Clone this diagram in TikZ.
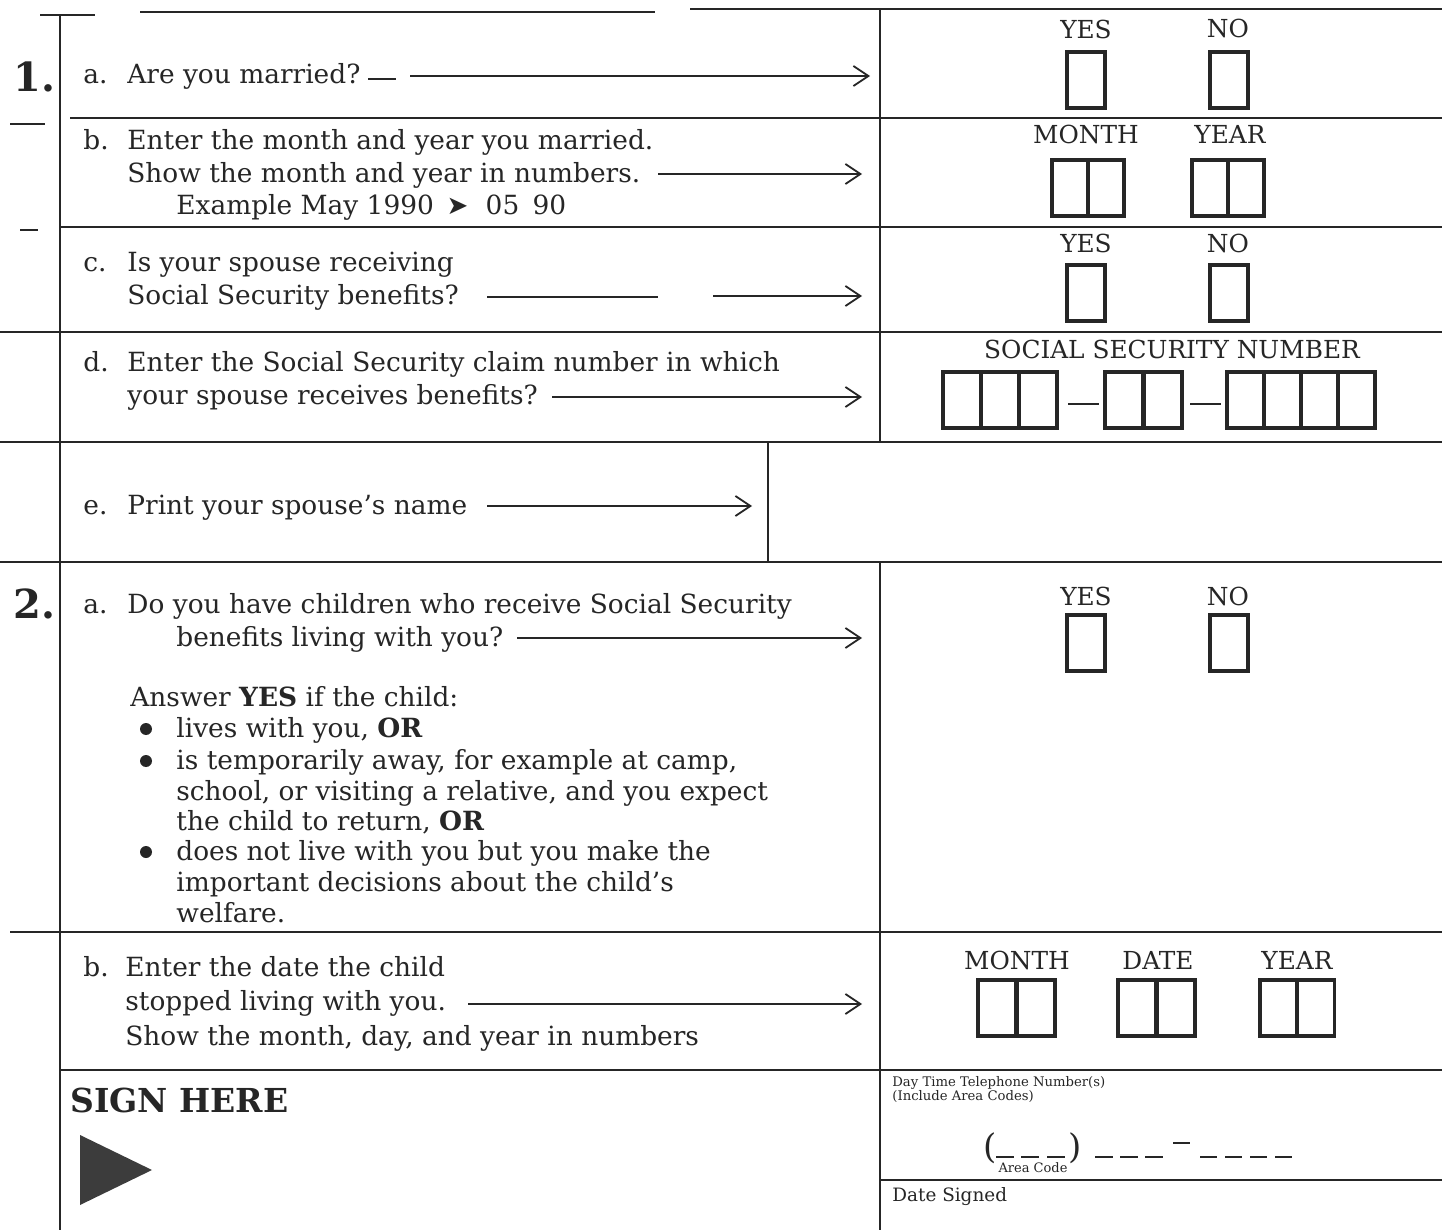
\documentclass[tikz,border=0pt]{standalone}
\usepackage{fontspec}
\setmainfont{DejaVu Serif}
\newfontfamily\symfont{DejaVu Sans}
\usetikzlibrary{arrows.meta}
\definecolor{ink}{HTML}{262626}
\tikzset{
  txt/.style={anchor=base west, inner sep=0pt, font=\fontsize{13.2}{15}\selectfont, text=ink},
  lbl/.style={anchor=base, inner sep=0pt, font=\fontsize{12.4}{14}\selectfont, text=ink},
  num/.style={anchor=base west, inner sep=0pt, font=\fontsize{20}{24}\selectfont\bfseries, text=ink},
  tiny/.style={anchor=base west, inner sep=0pt, font=\fontsize{6.6}{7}\selectfont, text=ink},
  rule/.style={draw=ink, line width=1pt},
  cell/.style={draw=ink, line width=1.6pt, minimum width=19pt, minimum height=28pt, inner sep=0pt},
  arr/.style={draw=ink, line width=0.9pt, -{Straight Barb[length=7.5pt,width=10pt]}},
  bul/.style={circle, fill=ink, minimum size=6pt, inner sep=0pt},
  paren/.style={anchor=base, inner sep=0pt, font=\fontsize{17}{18}\selectfont, text=ink},
}
\begin{document}
\begin{tikzpicture}[x=0.5pt,y=-0.5pt]
\useasboundingbox[fill=white] (0,0) rectangle (1442,1230);

% ---- frame rules ----
\draw[rule] (40,15) -- (95,15);
\draw[rule] (140,12) -- (655,12);
\draw[rule] (690,9) -- (1442,9);
\draw[rule] (60,15) -- (60,1230);
\draw[rule] (880,9) -- (880,442);
\draw[rule] (768,442) -- (768,562);
\draw[rule] (880,562) -- (880,1230);
\draw[rule] (10,124) -- (45,124);
\draw[rule] (70,118) -- (1442,118);
\draw[rule] (20,230) -- (38,230);
\draw[rule] (60,227) -- (1442,227);
\draw[rule] (0,332) -- (1442,332);
\draw[rule] (0,442) -- (1442,442);
\draw[rule] (0,562) -- (1442,562);
\draw[rule] (10,932) -- (1442,932);
\draw[rule] (60,1070) -- (1442,1070);
\draw[rule] (880,1180) -- (1442,1180);

% ---- section numbers ----
\node[num] (n1) at (13,92) {1.};
\node[num] (n2) at (13,618) {2.};

% ---- 1a ----
\node[txt] (aL) at (83,84) {a.};
\node[txt] (aT) at (127,84) {Are you married?};
\coordinate (aD1) at (368,79); \coordinate (aD2) at (396,79);
\draw[rule] (aD1) -- (aD2);
\coordinate (aS) at (410,76); \coordinate (aE) at (870,76);
\draw[arr] (aS) -- (aE);
\node[lbl] (aYesL) at (1086,39) {YES};
\node[lbl] (aNoL) at (1228,38) {NO};
\node[cell] (aYes) at (1086,80) {};
\node[cell] (aNo) at (1229,80) {};

% ---- 1b ----
\node[txt] (bL) at (83,150) {b.};
\node[txt] (bT1) at (127,150) {Enter the month and year you married.};
\node[txt] (bT2) at (127,183) {Show the month and year in numbers.};
\node[txt] (bT3) at (176,215) {Example May 1990 \,{\symfont\fontsize{13}{13}\selectfont ➤}\,\, 05\enspace 90};
\coordinate (bS) at (658,174); \coordinate (bE) at (862,174);
\draw[arr] (bS) -- (bE);
\node[lbl] (bMonL) at (1086,144) {MONTH};
\node[lbl] (bYrL) at (1230,144) {YEAR};
\node[cell, minimum width=18pt] (bM1) at (1070,188) {};
\node[cell, minimum width=18pt] (bM2) at (1106,188) {};
\node[cell, minimum width=18pt] (bY1) at (1210,188) {};
\node[cell, minimum width=18pt] (bY2) at (1246,188) {};

% ---- 1c ----
\node[txt] (cL) at (83,272) {c.};
\node[txt] (cT1) at (127,272) {Is your spouse receiving};
\node[txt] (cT2) at (127,305) {Social Security benefits?};
\coordinate (cD1) at (487,297); \coordinate (cD2) at (658,297);
\draw[rule] (cD1) -- (cD2);
\coordinate (cS) at (713,296); \coordinate (cE) at (862,296);
\draw[arr] (cS) -- (cE);
\node[lbl] (cYesL) at (1086,253) {YES};
\node[lbl] (cNoL) at (1228,253) {NO};
\node[cell] (cYes) at (1086,293) {};
\node[cell] (cNo) at (1229,293) {};

% ---- 1d ----
\node[txt] (dL) at (83,372) {d.};
\node[txt] (dT1) at (127,372) {Enter the Social Security claim number in which};
\node[txt] (dT2) at (127,405) {your spouse receives benefits?};
\coordinate (dS) at (552,397); \coordinate (dE) at (862,397);
\draw[arr] (dS) -- (dE);
\node[lbl] (ssnL) at (1172,359) {SOCIAL SECURITY NUMBER};
\foreach \i/\x in {1/962,2/1000,3/1038}{\node[cell] (sa\i) at (\x,400) {};}
\foreach \i/\x in {1/1124,2/1163}{\node[cell] (sb\i) at (\x,400) {};}
\foreach \i/\x in {1/1245.5,2/1282.5,3/1319.5,4/1356.5}{\node[cell, minimum width=18.5pt] (sc\i) at (\x,400) {};}
\coordinate (h1a) at (1068,404); \coordinate (h1b) at (1099,404);
\draw[rule, line width=1.4pt] (h1a) -- (h1b);
\coordinate (h2a) at (1190,404); \coordinate (h2b) at (1221,404);
\draw[rule, line width=1.4pt] (h2a) -- (h2b);

% ---- 1e ----
\node[txt] (eL) at (83,515) {e.};
\node[txt] (eT) at (127,515) {Print your spouse's name};
\coordinate (eS) at (487,506); \coordinate (eE) at (752,506);
\draw[arr] (eS) -- (eE);

% ---- 2a ----
\node[txt] (fL) at (83,613) {a.};
\node[txt] (fT1) at (127,613) {Do you have children who receive Social Security};
\node[txt] (fT2) at (176,646) {benefits living with you?};
\coordinate (fS) at (517,638); \coordinate (fE) at (862,638);
\draw[arr] (fS) -- (fE);
\node[lbl] (fYesL) at (1086,605) {YES};
\node[lbl] (fNoL) at (1228,605) {NO};
\node[cell] (fYes) at (1086,643) {};
\node[cell] (fNo) at (1229,643) {};

\node[txt] (ans) at (130,706) {Answer \textbf{YES} if the child:};
\node[bul] (b1) at (146,729) {};
\node[bul] (b2) at (146,761) {};
\node[bul] (b3) at (146,852) {};
\node[txt] (l1) at (176,737) {lives with you, \textbf{OR}};
\node[txt] (l2) at (176,769) {is temporarily away, for example at camp,};
\node[txt] (l3) at (176,800) {school, or visiting a relative, and you expect};
\node[txt] (l4) at (176,830) {the child to return, \textbf{OR}};
\node[txt] (l5) at (176,860) {does not live with you but you make the};
\node[txt] (l6) at (176,891) {important decisions about the child's};
\node[txt] (l7) at (176,922) {welfare.};

% ---- 2b ----
\node[txt] (gL) at (83,976) {b.};
\node[txt] (gT1) at (125,976) {Enter the date the child};
\node[txt] (gT2) at (125,1010) {stopped living with you.};
\node[txt] (gT3) at (125,1045) {Show the month, day, and year in numbers};
\coordinate (gS) at (468,1004); \coordinate (gE) at (862,1004);
\draw[arr] (gS) -- (gE);
\node[lbl] (gMonL) at (1017,969) {MONTH};
\node[lbl] (gDayL) at (1158,969) {DATE};
\node[lbl] (gYrL) at (1297,969) {YEAR};
\node[cell] (gM1) at (997,1008) {};
\node[cell] (gM2) at (1036,1008) {};
\node[cell] (gD1) at (1137,1008) {};
\node[cell] (gD2) at (1176,1008) {};
\node[cell, minimum width=18.5pt] (gY1) at (1278.5,1008) {};
\node[cell, minimum width=18.5pt] (gY2) at (1316,1008) {};

% ---- signature ----
\node[anchor=base west, inner sep=0pt, font=\fontsize{16.5}{18}\selectfont\bfseries, text=ink] (sign) at (70,1112) {SIGN HERE};
\fill[ink!90] (80,1135) -- (152,1170) -- (80,1205) -- cycle;

\node[tiny] (tel1) at (892,1086) {Day Time Telephone Number(s)};
\node[tiny] (tel2) at (892,1100) {(Include Area Codes)};
\node[paren] (lp) at (990,1158) {(};
\node[paren] (rp) at (1075,1158) {)};
\foreach \a/\b in {996/1014,1021/1039,1047/1065,1095/1113,1120/1138,1145/1163,1200/1217,1225/1242,1250/1267,1275/1292}
  {\draw[rule] (\a,1157) -- (\b,1157);}
\coordinate (hy1) at (1173,1143); \coordinate (hy2) at (1190,1143);
\draw[rule] (hy1) -- (hy2);
\node[anchor=base, inner sep=0pt, font=\fontsize{6.5}{7}\selectfont, text=ink] (acl) at (1033,1172) {Area Code};
\node[anchor=base west, inner sep=0pt, font=\fontsize{9.2}{10}\selectfont, text=ink] (dsg) at (892,1201) {Date Signed};
\end{tikzpicture}
\end{document}
